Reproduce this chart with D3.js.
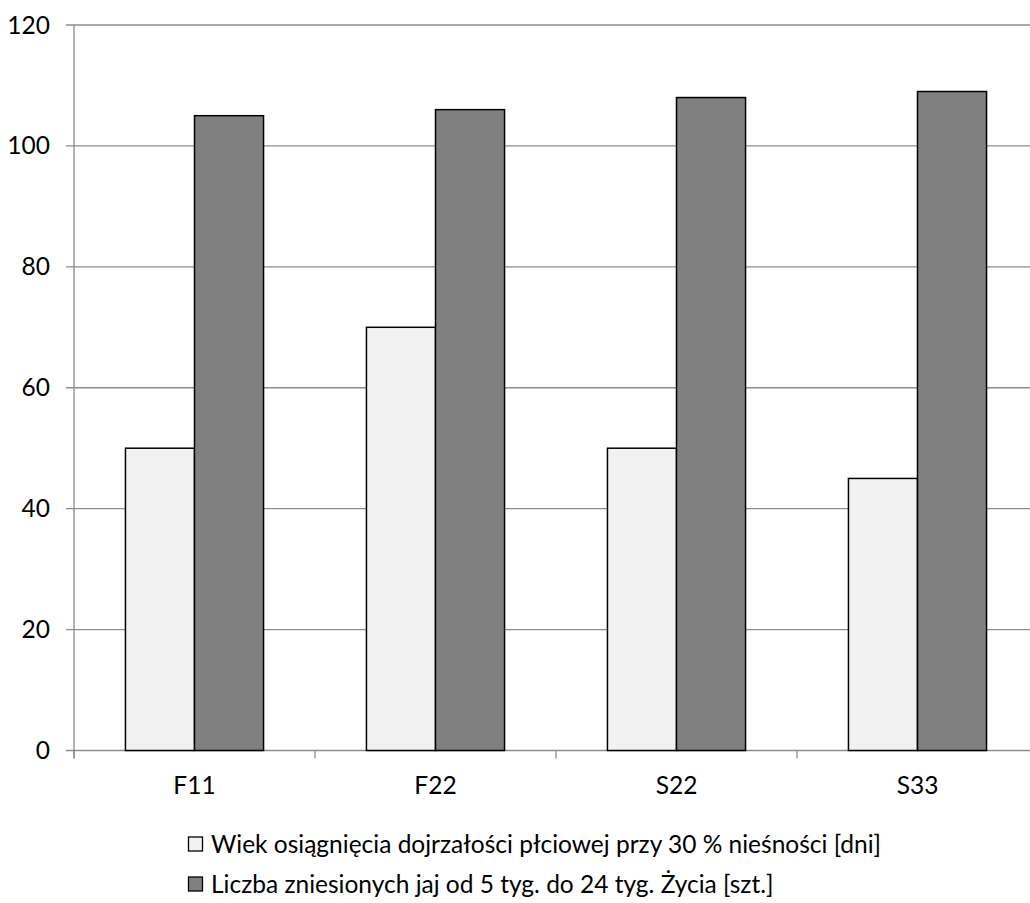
<!DOCTYPE html>
<html>
<head>
<meta charset="utf-8">
<script src="https://cdn.jsdelivr.net/npm/d3@7"></script>
<style>
  body { margin: 0; background: #fff; }
  svg text { font-family: Lato, "Open Sans", sans-serif; fill: #000; }
</style>
</head>
<body>
<svg id="chart" width="1030" height="903"></svg>
<script>
const categories = ["F11", "F22", "S22", "S33"];
const seriesNames = [
  "Wiek osiągnięcia dojrzałości płciowej przy 30 % nieśności [dni]",
  "Liczba zniesionych jaj od 5 tyg. do 24 tyg. Życia [szt.]"
];
const ageValues = [50, 70, 50, 45];
const eggValues = [105, 106, 108, 109];
const yTicks = [0, 20, 40, 60, 80, 100, 120];
const seriesColors = ["#f2f2f2", "#808080"];

const svg = d3.select("#chart");
const plotLeft = 74, plotRight = 1038, plotTop = 25, plotBottom = 750.5;
const fontSize = 24.5;

const x = d3.scaleBand().domain(categories).range([plotLeft, plotRight]).padding(0);
// each pair of bars fills ~57% of its category band, centred
const groupW = x.bandwidth() * 0.573;
const barX = d3.scaleBand().domain([0, 1])
  .range([(x.bandwidth() - groupW) / 2, (x.bandwidth() + groupW) / 2]);

const y = d3.scaleLinear().domain([0, 120]).range([plotBottom, plotTop]);

// horizontal gridlines
svg.append("g").selectAll("line").data(yTicks).join("line")
  .attr("x1", plotLeft - 8).attr("x2", 1030)
  .attr("y1", d => y(d)).attr("y2", d => y(d))
  .attr("stroke", "#8c8c8c").attr("stroke-width", 1.3);

// y axis line
svg.append("line").attr("x1", plotLeft).attr("x2", plotLeft)
  .attr("y1", plotTop).attr("y2", plotBottom + 8)
  .attr("stroke", "#8c8c8c").attr("stroke-width", 1.3);

// x axis category ticks
const tickXs = categories.map(c => x(c)).concat([plotRight]);
svg.append("g").selectAll("line").data(tickXs).join("line")
  .attr("x1", d => d).attr("x2", d => d)
  .attr("y1", plotBottom).attr("y2", plotBottom + 8)
  .attr("stroke", "#8c8c8c").attr("stroke-width", 1.3);

// y tick labels
svg.append("g").selectAll("text").data(yTicks).join("text")
  .attr("x", 50).attr("y", d => y(d))
  .attr("dy", "0.35em").attr("text-anchor", "end")
  .attr("font-size", fontSize).text(d => d);

// bars
const seriesData = [ageValues, eggValues];
seriesData.forEach((vals, si) => {
  svg.append("g").selectAll("rect").data(vals).join("rect")
    .attr("x", (d, i) => x(categories[i]) + barX(si))
    .attr("width", barX.bandwidth())
    .attr("y", d => y(d))
    .attr("height", d => y(0) - y(d))
    .attr("fill", seriesColors[si])
    .attr("stroke", "#000").attr("stroke-width", 1.5);
});

// category labels
svg.append("g").selectAll("text").data(categories).join("text")
  .attr("x", d => x(d) + x.bandwidth() / 2).attr("y", 785)
  .attr("dy", "0.35em").attr("text-anchor", "middle")
  .attr("font-size", fontSize).text(d => d);

// legend
const legendY = [844, 884];
const lg = svg.append("g");
seriesNames.forEach((name, i) => {
  lg.append("rect").attr("x", 188.5).attr("y", legendY[i] - 7)
    .attr("width", 14).attr("height", 14)
    .attr("fill", seriesColors[i]).attr("stroke", "#000").attr("stroke-width", 1.3);
  lg.append("text").attr("x", 211).attr("y", legendY[i])
    .attr("dy", "0.35em").attr("font-size", fontSize).text(name);
});
</script>
</body>
</html>
